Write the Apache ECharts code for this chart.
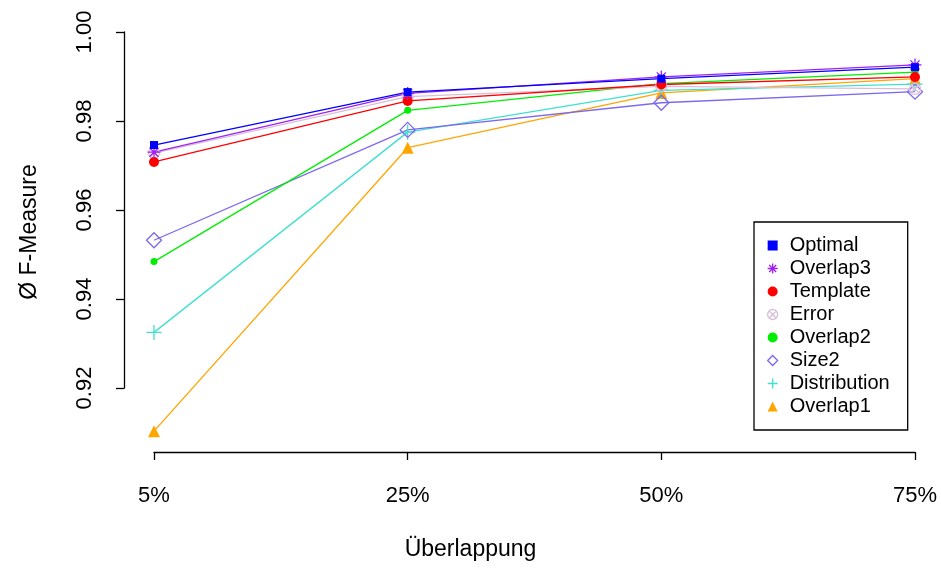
<!DOCTYPE html>
<html>
<head>
<meta charset="utf-8">
<script src="https://cdn.jsdelivr.net/npm/echarts@6/dist/echarts.min.js"></script>
<style>html,body{margin:0;padding:0;background:#fff;}#c{width:941px;height:574px;}</style>
</head>
<body>
<div id="c"></div>
<script>
var categories = ['5%', '25%', '50%', '75%'];
var yTicks = [0.92, 0.94, 0.96, 0.98, 1.00];
var optimal      = [0.9746, 0.9865, 0.9895, 0.9921];
var overlap3     = [0.9730, 0.9862, 0.9899, 0.9926];
var template     = [0.9708, 0.9845, 0.9882, 0.9899];
var errorVals    = [0.9728, 0.9855, 0.9878, 0.9872];
var overlap2     = [0.9484, 0.9824, 0.9884, 0.9910];
var size2        = [0.9532, 0.9780, 0.9841, 0.9866];
var distribution = [0.9325, 0.9775, 0.9869, 0.9883];
var overlap1     = [0.9103, 0.9740, 0.9863, 0.9895];

var FONT = '"Liberation Sans", Arial, sans-serif';
var ASTERISK = 'path://M5,0L5,10M0,5L10,5M1.5,1.5L8.5,8.5M1.5,8.5L8.5,1.5';
var PLUS = 'path://M5,0L5,10M0,5L10,5';
var CIRCLEX = 'path://M0,5A5,5 0 1,0 10,5A5,5 0 1,0 0,5M1.5,1.5L8.5,8.5M1.5,8.5L8.5,1.5';

function mk(name, data, color, symbol, size, open) {
  return {
    name: name, type: 'line', data: data, clip: false,
    symbol: symbol, symbolSize: size, showSymbol: true,
    lineStyle: { color: color, width: 1.3 },
    itemStyle: open ? { color: 'rgba(0,0,0,0)', borderColor: color, borderWidth: 1.3 }
                    : { color: color, borderColor: color, borderWidth: 0 },
    emphasis: { disabled: true },
    z: 2
  };
}

var series = [
  mk('Overlap1', overlap1, '#FFA500', 'triangle', 12, false),
  mk('Distribution', distribution, '#40E0D0', PLUS, 15, true),
  mk('Size2', size2, '#7B68EE', 'diamond', 15, true),
  mk('Overlap2', overlap2, '#00EE00', 'circle', 7, false),
  mk('Error', errorVals, '#D8BFD8', CIRCLEX, 11, true),
  mk('Template', template, '#FF0000', 'circle', 10, false),
  mk('Overlap3', overlap3, '#A020F0', ASTERISK, 13, true),
  mk('Optimal', optimal, '#0000FF', 'rect', 8, false)
];

var legendNames = ['Optimal', 'Overlap3', 'Template', 'Error', 'Overlap2', 'Size2', 'Distribution', 'Overlap1'];
var legendIcons = {
  'Optimal': ['rect', false], 'Overlap3': [ASTERISK, true], 'Template': ['circle', false],
  'Error': [CIRCLEX, true], 'Overlap2': ['circle', false], 'Size2': ['diamond', true],
  'Distribution': [PLUS, true], 'Overlap1': ['triangle', false]
};
var colorOf = {};
series.forEach(function (s) { colorOf[s.name] = s.lineStyle.color; });

var chart = echarts.init(document.getElementById('c'), null, { renderer: 'canvas' });
chart.setOption({
  animation: false,
  backgroundColor: '#ffffff',
  textStyle: { fontFamily: FONT },
  grid: { left: 154, right: 26, top: 32, bottom: 186, containLabel: false },
  xAxis: {
    type: 'category', data: categories, boundaryGap: false, offset: 64,
    axisLine: { show: true, lineStyle: { color: '#000', width: 1.3 } },
    axisTick: { show: true, length: 8, inside: false, alignWithLabel: true, lineStyle: { color: '#000', width: 1.3 } },
    axisLabel: { color: '#000', fontSize: 22, fontFamily: FONT, margin: 33 },
    splitLine: { show: false }
  },
  yAxis: {
    type: 'value', min: 0.92, max: 1.00, interval: 0.02, offset: 30,
    axisLine: { show: true, lineStyle: { color: '#000', width: 1.3 } },
    axisTick: { show: true, length: 8, inside: false, lineStyle: { color: '#000', width: 1.3 } },
    axisLabel: { color: '#000', fontSize: 22, fontFamily: FONT, rotate: 90, margin: 28,
      formatter: function (v) { return v.toFixed(2); } },
    splitLine: { show: false }
  },
  legend: {
    orient: 'vertical', left: 754, top: 222,
    backgroundColor: '#fff',
    borderColor: '#000', borderWidth: 1.3,
    padding: [12, 18, 12, 13],
    itemGap: 0, itemWidth: 10, itemHeight: 10,
    textStyle: { fontSize: 20, fontFamily: FONT, color: '#000', lineHeight: 23, padding: [0, 0, 0, 7] },
    data: legendNames.map(function (n) {
      var ic = legendIcons[n];
      return {
        name: n, icon: ic[0],
        itemStyle: ic[1] ? { color: 'rgba(0,0,0,0)', borderColor: colorOf[n], borderWidth: 1.3 }
                         : { color: colorOf[n], borderWidth: 0 }
      };
    }),
    selectedMode: false
  },
  graphic: [
    { type: 'text', left: 'center', top: 538, style: { text: 'Überlappung', font: '23px ' + FONT, fill: '#000' } },
    { type: 'text', x: 30, y: 232, rotation: Math.PI / 2, style: { text: 'Ø F-Measure', font: '23px ' + FONT, fill: '#000', align: 'center', verticalAlign: 'middle' } }
  ],
  series: series
});
</script>
</body>
</html>
